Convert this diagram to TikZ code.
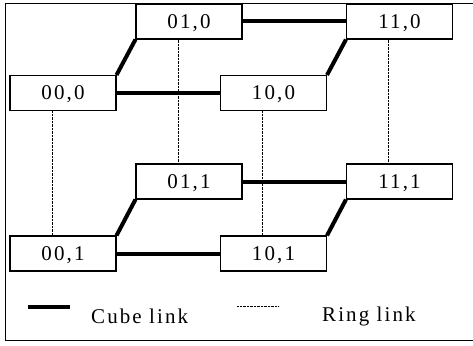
\documentclass[tikz,border=0pt]{standalone}
\usepackage{fontspec}
\setmainfont{Liberation Serif}[LetterSpace=10]
\usepackage{tikz}
\usetikzlibrary{positioning}
\tikzset{
  cubenode/.style={draw, line width=1.1pt, fill=white, minimum width=106pt, minimum height=35pt,
                   inner sep=0pt, font=\fontsize{21}{23}\selectfont, text depth=-2pt},
  cubelink/.style={line width=4pt},
  ringlink/.style={line width=0.7pt, dash pattern=on 0.7pt off 0.7pt},
}
% hypercube nodes, layer is the digit after the comma
\newcommand{\cubebox}[3]{
  \node[cubenode] (#1) at #2 {#3};
}

\begin{document}
\begin{tikzpicture}[x=1pt,y=-1pt]
\useasboundingbox (0,0) rectangle (473,345);
\draw[line width=1pt] (480,3.5) -- (5.5,3.5) -- (5.5,340.5) -- (480,340.5);

% layer 0
\cubebox{n010}{(189,21.5)}{01,0}
\cubebox{n110}{(399.5,21.5)}{11,0}
\cubebox{n000}{(63,93)}{00,0}
\cubebox{n100}{(273.5,93)}{10,0}
% layer 1
\cubebox{n011}{(189,181.5)}{01,1}
\cubebox{n111}{(399.5,181.5)}{11,1}
\cubebox{n001}{(63,253.5)}{00,1}
\cubebox{n101}{(273.5,253.5)}{10,1}

% ring links between the layers
\foreach \a/\b in {n000/n001, n010/n011, n100/n101, n110/n111}
  \draw[ringlink] ([xshift=-11pt]\a.south) -- ([xshift=-11pt]\b.north);

% cube links inside each layer
\foreach \l in {0,1} {
  \draw[cubelink] (n00\l.north east) -- (n01\l.south west);
  \draw[cubelink] (n10\l.north east) -- (n11\l.south west);
  \draw[cubelink] (n00\l.east) -- (n10\l.west);
  \draw[cubelink] (n01\l.east) -- (n11\l.west);
}

% legend
\coordinate (cubeA) at (28,307);
\coordinate (cubeB) at (70,307);
\coordinate (ringA) at (237,306);
\coordinate (ringB) at (279,306);
\draw[cubelink] (cubeA) -- (cubeB);
\draw[ringlink] (ringA) -- (ringB);
\node[anchor=west, font=\fontsize{21}{23}\selectfont, inner sep=0pt] (cubetxt) at (91,316) {Cube link};
\node[anchor=west, font=\fontsize{21}{23}\selectfont, inner sep=0pt] (ringtxt) at (322,316) {Ring link};
\end{tikzpicture}
\end{document}
